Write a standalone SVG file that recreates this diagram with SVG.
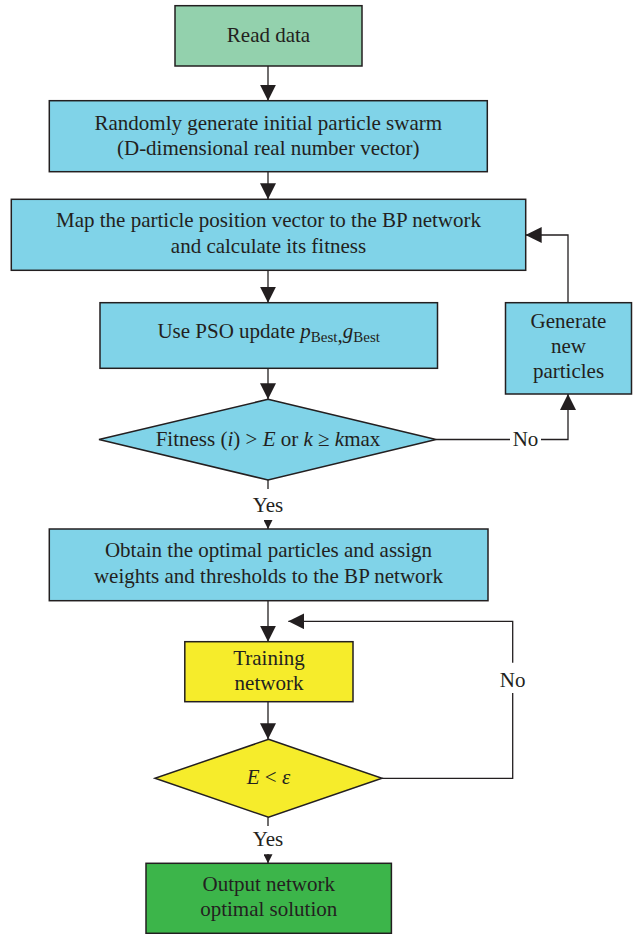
<svg xmlns="http://www.w3.org/2000/svg" width="634" height="934" viewBox="0 0 634 934">
<style>
.box{stroke:#231f20;stroke-width:1.5}
.lt{fill:#93d1ad}.bl{fill:#80d3e8}.ye{fill:#f6ec2b}.gr{fill:#3cb54a}
text{font-family:"Liberation Serif","Times New Roman",serif;font-size:21px;fill:#231f20;text-anchor:middle}
.it{font-style:italic}
.sub{font-size:15px}
.ln{fill:none;stroke:#231f20;stroke-width:1.3}
</style>
<defs>
<marker id="ah" markerUnits="userSpaceOnUse" markerWidth="16" markerHeight="16" viewBox="0 0 16 16" refX="16" refY="8" orient="auto">
<path d="M0,0 L16,8 L0,16 z" fill="#231f20"/>
</marker>
<marker id="as" markerUnits="userSpaceOnUse" markerWidth="9" markerHeight="9" viewBox="0 0 9 9" refX="9" refY="4.5" orient="auto">
<path d="M0,0 L9,4.5 L0,9 z" fill="#231f20"/>
</marker>
</defs>
<g id="connectors">
<line class="ln" x1="268" y1="66" x2="268" y2="100.7" marker-end="url(#ah)"/>
<line class="ln" x1="268" y1="171.7" x2="268" y2="199.3" marker-end="url(#ah)"/>
<line class="ln" x1="268" y1="270.3" x2="268" y2="302.7" marker-end="url(#ah)"/>
<line class="ln" x1="268" y1="368.3" x2="268" y2="399.3" marker-end="url(#ah)"/>
<line class="ln" x1="436" y1="439.5" x2="510" y2="439.5"/>
<polyline class="ln" points="541,439.5 568,439.5 568,394" marker-end="url(#ah)"/>
<polyline class="ln" points="568,302.7 568,235 525.7,235" marker-end="url(#ah)"/>
<line class="ln" x1="268" y1="480" x2="268" y2="489"/>
<line class="ln" x1="268" y1="520" x2="268" y2="529" marker-end="url(#as)"/>
<line class="ln" x1="268" y1="600.7" x2="268" y2="641.7" marker-end="url(#ah)"/>
<line class="ln" x1="268" y1="701.7" x2="268" y2="739.3" marker-end="url(#ah)"/>
<polyline class="ln" points="382,778.3 512.7,778.3 512.7,693"/>
<polyline class="ln" points="512.7,662.7 512.7,621.3 288.3,621.3" marker-end="url(#ah)"/>
<line class="ln" x1="268" y1="817.3" x2="268" y2="826"/>
<line class="ln" x1="268" y1="854" x2="268" y2="863.3" marker-end="url(#as)"/>
<text x="525.5" y="446">No</text>
<text x="268" y="512">Yes</text>
<text x="512.7" y="687">No</text>
<text x="268" y="846">Yes</text>
</g>
<g id="read-data">
<rect class="box lt" x="175" y="5.7" width="187" height="60.3"/>
<text x="268.5" y="42">Read data</text>
</g>
<g id="init-swarm">
<rect class="box bl" x="49.3" y="100.7" width="438" height="71"/>
<text x="268.3" y="129.5">Randomly generate initial particle swarm</text>
<text x="268.3" y="154.5">(D-dimensional real number vector)</text>
</g>
<g id="map-fitness">
<rect class="box bl" x="11.3" y="199.3" width="514.4" height="71"/>
<text x="268.5" y="227">Map the particle position vector to the BP network</text>
<text x="268.5" y="252.5">and calculate its fitness</text>
</g>
<g id="pso-update">
<rect class="box bl" x="100" y="302.7" width="337.5" height="65.6"/>
<text x="268.7" y="338">Use PSO update <tspan class="it">p</tspan><tspan class="sub" dy="4">Best</tspan><tspan dy="0">,</tspan><tspan class="it" dy="-4">g</tspan><tspan class="sub" dy="4">Best</tspan></text>
</g>
<g id="generate-new">
<rect class="box bl" x="505.5" y="302.7" width="126" height="91.3"/>
<text x="568.5" y="328">Generate</text>
<text x="568.5" y="353">new</text>
<text x="568.5" y="378">particles</text>
</g>
<g id="decision-fitness">
<polygon class="box bl" points="268,399.3 436,439.5 268,480 99,439.5"/>
<text x="268" y="446">Fitness (<tspan class="it">i</tspan>) &gt; <tspan class="it">E</tspan> or <tspan class="it">k</tspan> ≥ <tspan class="it">k</tspan>max</text>
</g>
<g id="obtain-optimal">
<rect class="box bl" x="49.3" y="529" width="438.7" height="71.7"/>
<text x="268.5" y="557">Obtain the optimal particles and assign</text>
<text x="268.5" y="583">weights and thresholds to the BP network</text>
</g>
<g id="training">
<rect class="box ye" x="184.8" y="641.7" width="168.2" height="60"/>
<text x="269" y="664.5">Training</text>
<text x="269" y="689.5">network</text>
</g>
<g id="decision-error">
<polygon class="box ye" points="268.5,739.3 382,778.3 268.5,817.3 155,778.3"/>
<text x="268.5" y="784"><tspan class="it">E</tspan> &lt; <tspan class="it">ε</tspan></text>
</g>
<g id="output">
<rect class="box gr" x="146" y="863.3" width="245.4" height="70"/>
<text x="268.7" y="891">Output network</text>
<text x="268.7" y="915.5">optimal solution</text>
</g>
</svg>
